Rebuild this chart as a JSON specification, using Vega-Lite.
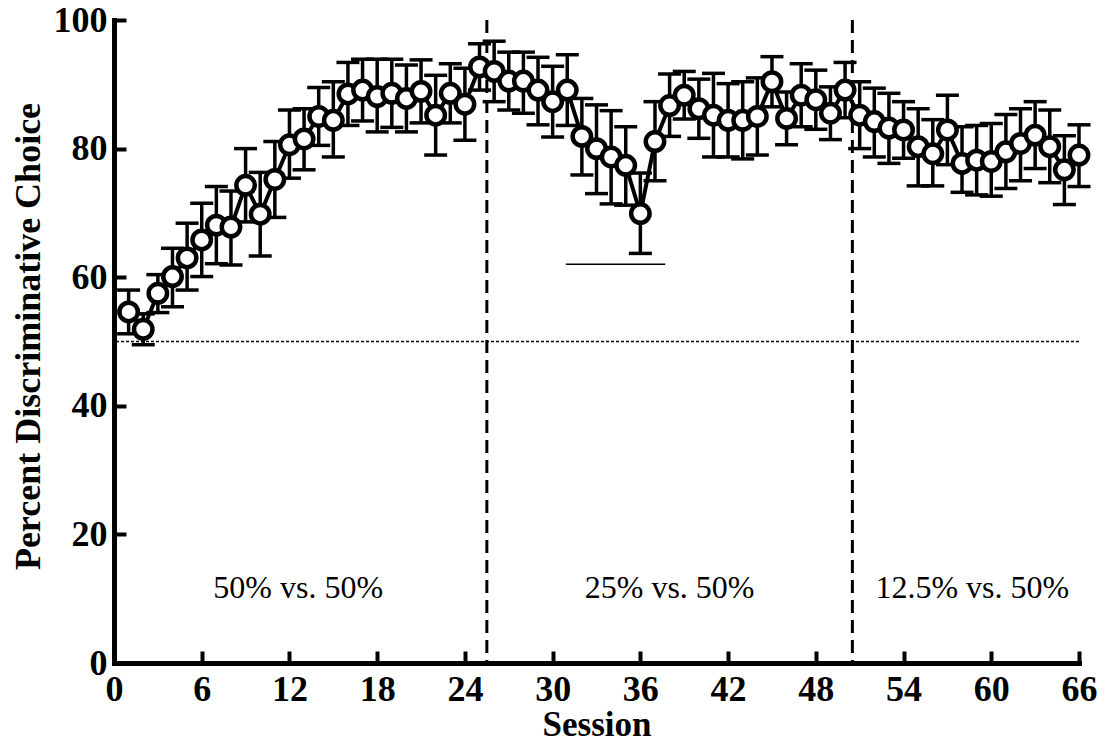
{
  "$schema": "https://vega.github.io/schema/vega-lite/v6.json",
  "width": 965,
  "height": 643,
  "autosize": "none",
  "padding": {"left": 114, "top": 20, "right": 34, "bottom": 81},
  "background": "white",
  "config": {
    "view": {"stroke": null},
    "font": "Liberation Serif",
    "axis": {
      "grid": false,
      "domainColor": "black",
      "domainWidth": 5,
      "domainCap": "square",
      "tickColor": "black",
      "tickWidth": 4,
      "tickSize": -12,
      "labelFont": "Liberation Serif",
      "labelFontWeight": "bold",
      "labelFontSize": 36,
      "labelColor": "black",
      "labelFlush": false,
      "labelOverlap": false,
      "titleFont": "Liberation Serif",
      "titleFontWeight": "bold",
      "titleFontSize": 35,
      "titleColor": "black"
    },
    "axisX": {"labelPadding": 21, "titleY": 72, "titleBaseline": "alphabetic"},
    "axisY": {"labelPadding": 19, "titleX": -86, "titleY": 316, "titleBaseline": "middle", "titleFontSize": 36}
  },
  "datasets": {
    "sessions": [
      {"session": 1, "pct": 54.6, "lo": 51.2, "hi": 58.0},
      {"session": 2, "pct": 51.9, "lo": 49.5, "hi": 54.3},
      {"session": 3, "pct": 57.5, "lo": 54.5, "hi": 60.4},
      {"session": 4, "pct": 60.1, "lo": 55.4, "hi": 64.5},
      {"session": 5, "pct": 63.0, "lo": 58.0, "hi": 68.4},
      {"session": 6, "pct": 65.8, "lo": 60.1, "hi": 71.5},
      {"session": 7, "pct": 68.1, "lo": 62.1, "hi": 74.1},
      {"session": 8, "pct": 67.8, "lo": 61.9, "hi": 73.4},
      {"session": 9, "pct": 74.3, "lo": 68.6, "hi": 80.0},
      {"session": 10, "pct": 69.8, "lo": 63.3, "hi": 76.3},
      {"session": 11, "pct": 75.2, "lo": 69.3, "hi": 81.1},
      {"session": 12, "pct": 80.6, "lo": 75.4, "hi": 86.0},
      {"session": 13, "pct": 81.5, "lo": 76.7, "hi": 86.2},
      {"session": 14, "pct": 85.0, "lo": 80.5, "hi": 89.5},
      {"session": 15, "pct": 84.4, "lo": 78.7, "hi": 90.4},
      {"session": 16, "pct": 88.5, "lo": 83.6, "hi": 93.4},
      {"session": 17, "pct": 89.1, "lo": 84.3, "hi": 93.9},
      {"session": 18, "pct": 88.1, "lo": 82.6, "hi": 93.9},
      {"session": 19, "pct": 88.6, "lo": 83.3, "hi": 93.9},
      {"session": 20, "pct": 87.8, "lo": 82.6, "hi": 93.0},
      {"session": 21, "pct": 88.9, "lo": 84.0, "hi": 93.8},
      {"session": 22, "pct": 85.2, "lo": 79.0, "hi": 91.4},
      {"session": 23, "pct": 88.6, "lo": 84.0, "hi": 93.2},
      {"session": 24, "pct": 86.9, "lo": 81.3, "hi": 92.5},
      {"session": 25, "pct": 92.7, "lo": 89.1, "hi": 96.3},
      {"session": 26, "pct": 92.0, "lo": 87.3, "hi": 96.7},
      {"session": 27, "pct": 90.5, "lo": 86.0, "hi": 95.0},
      {"session": 28, "pct": 90.5, "lo": 85.5, "hi": 95.0},
      {"session": 29, "pct": 89.1, "lo": 83.7, "hi": 94.2},
      {"session": 30, "pct": 87.3, "lo": 81.8, "hi": 92.8},
      {"session": 31, "pct": 89.1, "lo": 83.6, "hi": 94.6},
      {"session": 32, "pct": 81.9, "lo": 75.9, "hi": 87.8},
      {"session": 33, "pct": 80.0, "lo": 73.0, "hi": 86.8},
      {"session": 34, "pct": 78.7, "lo": 71.4, "hi": 85.9},
      {"session": 35, "pct": 77.4, "lo": 71.2, "hi": 83.4},
      {"session": 36, "pct": 69.9, "lo": 63.7, "hi": 76.2},
      {"session": 37, "pct": 81.1, "lo": 75.0, "hi": 87.3},
      {"session": 38, "pct": 86.7, "lo": 81.9, "hi": 91.6},
      {"session": 39, "pct": 88.3, "lo": 84.6, "hi": 92.0},
      {"session": 40, "pct": 86.2, "lo": 81.6, "hi": 90.8},
      {"session": 41, "pct": 85.2, "lo": 78.7, "hi": 91.7},
      {"session": 42, "pct": 84.4, "lo": 78.7, "hi": 90.1},
      {"session": 43, "pct": 84.4, "lo": 78.4, "hi": 90.4},
      {"session": 44, "pct": 85.0, "lo": 79.0, "hi": 91.0},
      {"session": 45, "pct": 90.4, "lo": 86.5, "hi": 94.3},
      {"session": 46, "pct": 84.7, "lo": 80.6, "hi": 88.8},
      {"session": 47, "pct": 88.3, "lo": 83.4, "hi": 93.2},
      {"session": 48, "pct": 87.6, "lo": 83.0, "hi": 92.2},
      {"session": 49, "pct": 85.5, "lo": 81.4, "hi": 89.6},
      {"session": 50, "pct": 89.1, "lo": 84.8, "hi": 93.4},
      {"session": 51, "pct": 85.2, "lo": 80.0, "hi": 90.4},
      {"session": 52, "pct": 84.2, "lo": 78.7, "hi": 89.4},
      {"session": 53, "pct": 83.2, "lo": 77.7, "hi": 88.6},
      {"session": 54, "pct": 82.9, "lo": 78.5, "hi": 87.3},
      {"session": 55, "pct": 80.3, "lo": 74.2, "hi": 86.2},
      {"session": 56, "pct": 79.2, "lo": 74.2, "hi": 84.5},
      {"session": 57, "pct": 82.9, "lo": 77.5, "hi": 88.3},
      {"session": 58, "pct": 77.7, "lo": 73.2, "hi": 83.4},
      {"session": 59, "pct": 78.2, "lo": 72.8, "hi": 83.6},
      {"session": 60, "pct": 78.0, "lo": 72.6, "hi": 83.9},
      {"session": 61, "pct": 79.5, "lo": 73.8, "hi": 85.3},
      {"session": 62, "pct": 80.8, "lo": 75.0, "hi": 86.2},
      {"session": 63, "pct": 82.1, "lo": 76.9, "hi": 87.3},
      {"session": 64, "pct": 80.3, "lo": 74.7, "hi": 86.0},
      {"session": 65, "pct": 76.7, "lo": 71.3, "hi": 82.0},
      {"session": 66, "pct": 79.0, "lo": 74.1, "hi": 83.7}
    ],
    "phases": [{"session": 25.5}, {"session": 50.5}],
    "chance": [{"pct": 50}],
    "marker": [{"session": 30.9, "session_end": 37.7, "pct": 62}],
    "labels": [
      {"session": 12.6, "pct": 11.7, "label": "50% vs. 50%"},
      {"session": 38.0, "pct": 11.7, "label": "25% vs. 50%"},
      {"session": 58.7, "pct": 11.7, "label": "12.5% vs. 50%"}
    ]
  },
  "layer": [
    {
      "data": {"name": "chance"},
      "mark": {"type": "rule", "color": "black", "strokeWidth": 1.5, "strokeDash": [3, 2]},
      "encoding": {
        "y": {"field": "pct", "type": "quantitative", "scale": {"domain": [0, 100], "nice": false}, "title": "Percent Discriminative Choice", "axis": {"values": [0, 20, 40, 60, 80, 100]}}
      }
    },
    {
      "data": {"name": "phases"},
      "mark": {"type": "rule", "color": "black", "strokeWidth": 3, "strokeDash": [13, 7]},
      "encoding": {
        "x": {"field": "session", "type": "quantitative", "scale": {"domain": [0, 66], "nice": false}, "title": "Session", "axis": {"values": [0, 6, 12, 18, 24, 30, 36, 42, 48, 54, 60, 66]}}
      }
    },
    {
      "data": {"name": "marker"},
      "mark": {"type": "rule", "color": "black", "strokeWidth": 1.5},
      "encoding": {
        "x": {"field": "session", "type": "quantitative", "title": "Session"},
        "x2": {"field": "session_end"},
        "y": {"field": "pct", "type": "quantitative", "title": "Percent Discriminative Choice"}
      }
    },
    {
      "data": {"name": "sessions"},
      "mark": {"type": "rule", "color": "black", "strokeWidth": 3.5},
      "encoding": {
        "x": {"field": "session", "type": "quantitative", "title": "Session"},
        "y": {"field": "lo", "type": "quantitative", "title": "Percent Discriminative Choice"},
        "y2": {"field": "hi"}
      }
    },
    {
      "data": {"name": "sessions"},
      "mark": {"type": "tick", "color": "black", "orient": "horizontal", "size": 23, "thickness": 3.5, "opacity": 1},
      "encoding": {
        "x": {"field": "session", "type": "quantitative", "title": "Session"},
        "y": {"field": "lo", "type": "quantitative", "title": "Percent Discriminative Choice"}
      }
    },
    {
      "data": {"name": "sessions"},
      "mark": {"type": "tick", "color": "black", "orient": "horizontal", "size": 23, "thickness": 3.5, "opacity": 1},
      "encoding": {
        "x": {"field": "session", "type": "quantitative", "title": "Session"},
        "y": {"field": "hi", "type": "quantitative", "title": "Percent Discriminative Choice"}
      }
    },
    {
      "data": {"name": "sessions"},
      "mark": {"type": "line", "color": "black", "strokeWidth": 4},
      "encoding": {
        "x": {"field": "session", "type": "quantitative", "title": "Session"},
        "y": {"field": "pct", "type": "quantitative", "title": "Percent Discriminative Choice"}
      }
    },
    {
      "data": {"name": "sessions"},
      "mark": {"type": "point", "shape": "circle", "filled": true, "fill": "white", "stroke": "black", "strokeWidth": 4.5, "size": 340, "opacity": 1, "fillOpacity": 1, "strokeOpacity": 1},
      "encoding": {
        "x": {"field": "session", "type": "quantitative", "title": "Session"},
        "y": {"field": "pct", "type": "quantitative", "title": "Percent Discriminative Choice"}
      }
    },
    {
      "data": {"name": "labels"},
      "mark": {"type": "text", "font": "Liberation Serif", "fontSize": 32, "color": "black", "align": "center", "baseline": "middle"},
      "encoding": {
        "x": {"field": "session", "type": "quantitative", "title": "Session"},
        "y": {"field": "pct", "type": "quantitative", "title": "Percent Discriminative Choice"},
        "text": {"field": "label"}
      }
    }
  ]
}
